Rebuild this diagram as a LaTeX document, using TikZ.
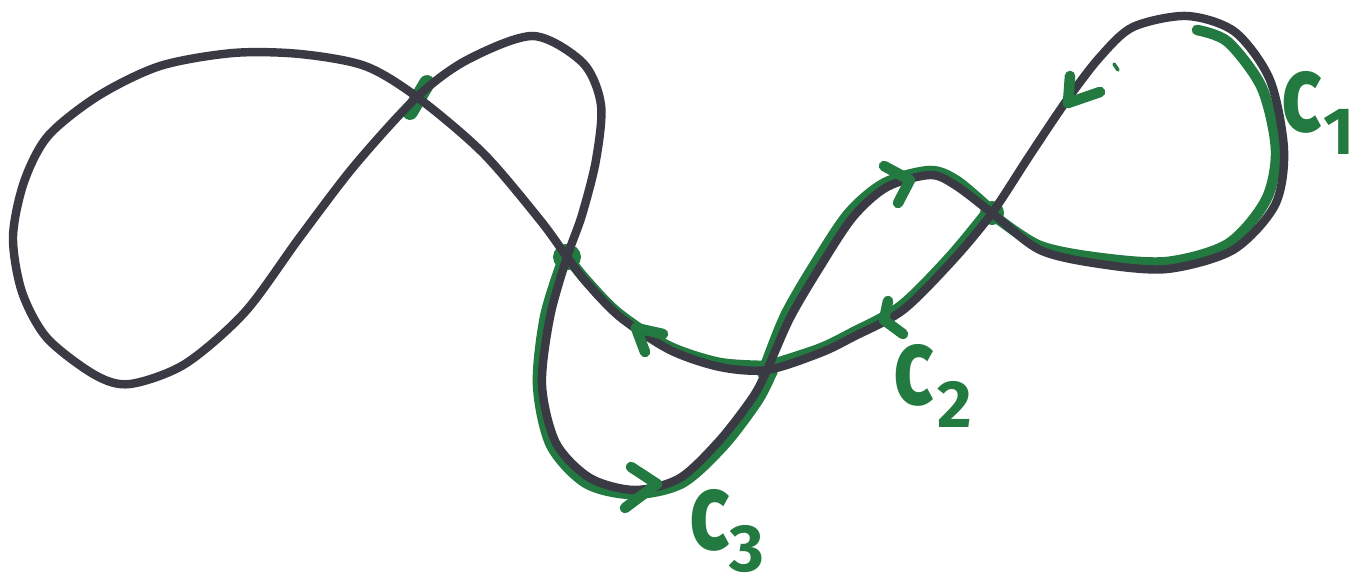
\documentclass[tikz,border=0pt]{standalone}
\usepackage{fontspec}
\setmainfont{Fira Sans}
\usetikzlibrary{calc}
\definecolor{ink}{RGB}{58,58,68}
\definecolor{pen}{RGB}{34,122,64}
\newcommand{\lblc}{\scalebox{1.0}[1.3]{c}}
\newcommand{\lblsub}[1]{\raisebox{-13pt}{\fontsize{38}{38}\selectfont #1}}
\begin{document}
\begin{tikzpicture}[x=0.02cm,y=-0.02cm,
  blackline/.style={draw=ink,line width=4.8pt,line cap=round,line join=round},
  greenline/.style={draw=pen,line width=6pt,line cap=round,line join=round},
  garrow/.style={draw=pen,line width=6pt,line cap=round,line join=round},
  gblob/.style={fill=pen,draw=none},
  lbl/.style={text=pen,font=\fontseries{sb}\fontsize{48}{48}\selectfont,inner sep=0pt}]
\useasboundingbox[fill=white] (0,0) rectangle (1356,588);
% crossings
\coordinate (A) at (417,97);
\coordinate (B) at (567,257);
\coordinate (C) at (767,370);
\coordinate (D) at (992,213);
% green blobs at crossings
\draw[pen,line width=9pt,line cap=round] (427,83) -- (410,112);
\fill[gblob] (B) ellipse [x radius=14, y radius=13];
\fill[gblob] (C) circle [radius=11];
\fill[gblob] (D) circle [radius=12];
% green curve c1
\draw[greenline] plot[smooth] coordinates {(997,218) (1040,246) (1100,258) (1167,262) (1228,244) (1266,200) (1276,150) (1262,88) (1228,42) (1197,30)};
% green curve c3
\draw[greenline] plot[smooth] coordinates {(562,262) (545,317) (538,385) (551,445) (586,483) (633,494) (682,483) (724,445) (758,400) (772,372)};
\draw[greenline] plot[smooth] coordinates {(770,366) (720,363) (668,346) (618,313) (585,279) (566,255)};
% green curve c2
\draw[greenline] plot[smooth] coordinates {(763,372) (785,316) (815,264) (849,213) (885,183) (930,171) (957,181) (990,209)};
\draw[greenline] plot[smooth] coordinates {(988,211) (950,257) (901,306) (852,333) (819,349) (767,366)};
% black closed curve
\draw[blackline] plot[smooth cycle] coordinates {
 (A) (467,60) (533,36) (583,63) (601,105) (596,160) (582,215) (B)
 (550,317) (542,385) (556,443) (590,478) (635,490) (680,478) (720,440) (753,397) (C)
 (790,318) (820,267) (853,217) (887,187) (930,175) (955,185) (D)
 (1040,250) (1100,264) (1167,269) (1233,250) (1275,205) (1284,150) (1270,80) (1235,32) (1187,16) (1133,27) (1100,57) (1067,100) (1030,155) (D)
 (953,260) (903,310) (853,337) (820,353) (C)
 (720,367) (670,350) (620,317) (587,283) (B)
 (540,220) (483,153) (A)
 (365,66) (300,54) (233,53) (160,66) (98,96) (48,136) (24,182) (13,237) (22,292) (47,338) (95,375) (130,384) (185,364) (245,312) (300,237) (355,165)};
% arrowheads
\coordinate (t1) at (1068,103);
\draw[garrow] (1070,76) -- (t1) -- (1100,92);
\draw[pen,line width=2pt,line cap=round] (1114,64) -- (1118,70);
\coordinate (t2) at (910,180);
\draw[garrow] (884,166) -- (t2) -- (898,203);
\coordinate (t3) at (884,320);
\draw[garrow] (888,301) -- (t3) -- (903,334);
\coordinate (t4) at (636,328);
\draw[garrow] (663,334) -- (t4) -- (645,352);
\coordinate (t5) at (657,484);
\draw[garrow] (631,467) -- (t5) -- (625,508);
% labels
\node[lbl] (l1) at (1318,113) {\lblc\kern1pt\lblsub{1}};
\node[lbl] (l2) at (933,386) {\lblc\kern2pt\lblsub{2}};
\node[lbl] (l3) at (727,531) {\lblc\kern0pt\lblsub{3}};
\end{tikzpicture}
\end{document}
